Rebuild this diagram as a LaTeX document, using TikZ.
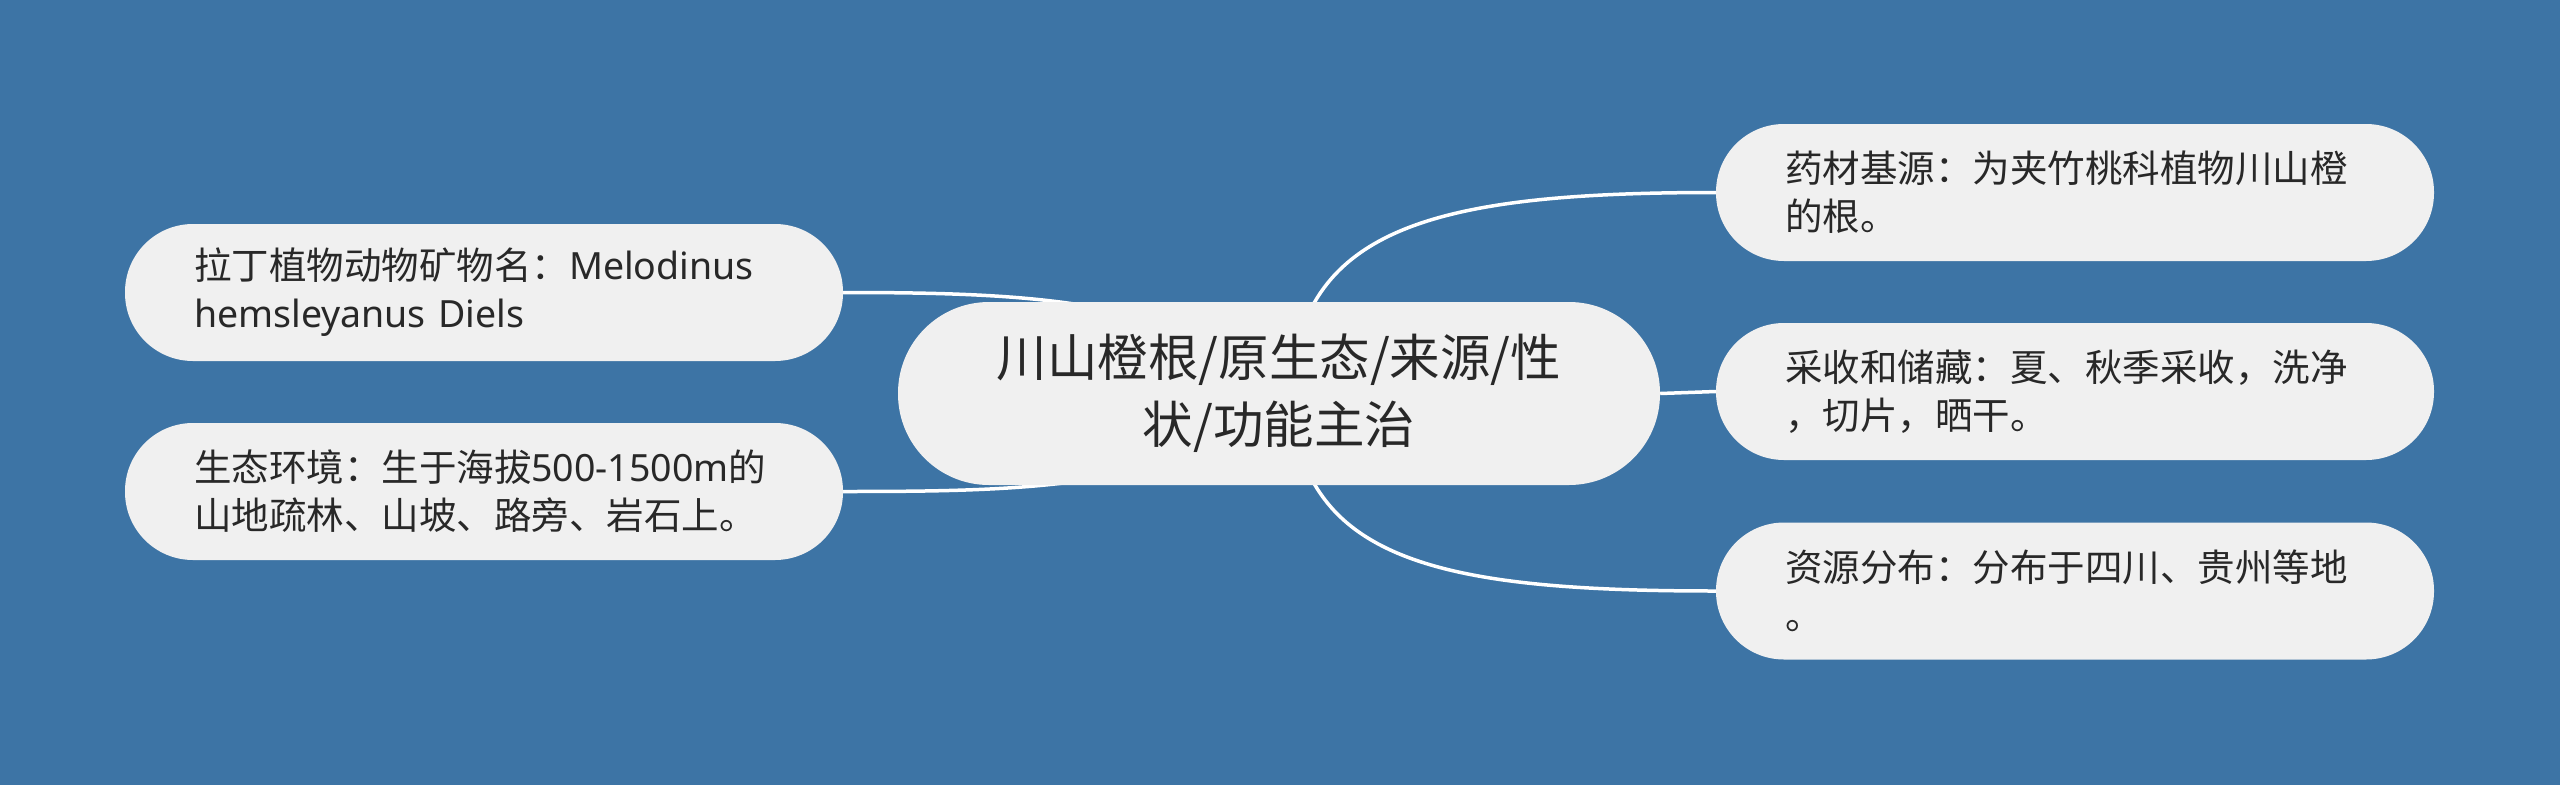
\documentclass[tikz,border=0pt]{standalone}
\usepackage{fontspec}
\newfontfamily\cjk{Noto Sans CJK SC}
\newfontfamily\lat{Noto Sans}
\definecolor{bgblue}{RGB}{61,116,165}
\definecolor{nodefill}{RGB}{240,240,240}
\definecolor{txt}{RGB}{40,40,40}
\pgfdeclarelayer{background}
\pgfsetlayers{background,main}
\tikzset{
  leaf/.style={fill=nodefill, draw=none, rounded corners=68pt, minimum width=718pt, minimum height=137pt,
    inner xsep=69pt, inner ysep=0pt, text width=580pt, align=left, text=txt,
    font=\cjk\fontsize{37.5}{48}\selectfont},
  rootbox/.style={fill=nodefill, draw=none, rounded corners=91pt, minimum width=762pt, minimum height=183pt,
    inner sep=0pt, align=center, text=txt, font=\cjk\fontsize{50.5}{67}\selectfont},
  link/.style={draw=white, line width=3.5pt}
}
\begin{document}
\begin{tikzpicture}[x=1pt,y=-1pt]
\useasboundingbox (0,0) rectangle (2560,785);
\node[rootbox] (c) at (1279,393.5) {川山橙根/原生态/来源/性\\状/功能主治};
\node[leaf] (l1) at (484,292.5) {拉丁植物动物矿物名：{\lat Melodinus}\\{\lat hemsleyanus Diels}};
\node[leaf] (l2) at (484,491.5) {生态环境：生于海拔{\lat 500-1500m}的\\山地疏林、山坡、路旁、岩石上。};
\node[leaf] (r1) at (2075,192.5) {药材基源：为夹竹桃科植物川山橙\\的根。};
\node[leaf] (r2) at (2075,391.5) {采收和储藏：夏、秋季采收，洗净\\，切片，晒干。};
\node[leaf] (r3) at (2075,591) {资源分布：分布于四川、贵州等地\\。};
\begin{pgfonlayer}{background}
\fill[bgblue] (0,0) rectangle (2560,785);
\draw[link] (c.center) ++(11,0) .. controls +(10,-165) and +(-285,0) .. (r1.west);
\draw[link] (c.center) ++(11,0) .. controls +(10,165) and +(-285,0) .. (r3.west);
\draw[link] (c.east) -- (r2.west);
\draw[link] (c.center) ++(-40,-35) .. controls +(-100,-60) and +(170,0) .. (l1.east);
\draw[link] (c.center) ++(-40,35) .. controls +(-100,60) and +(170,0) .. (l2.east);
\end{pgfonlayer}
\end{tikzpicture}
\end{document}
